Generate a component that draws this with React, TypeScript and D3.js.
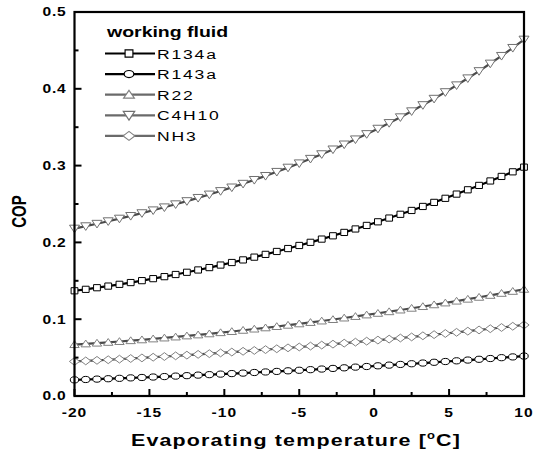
import React from "react";
import * as d3 from "d3";

// Evaporating temperature (°C) at each computed point
const temperatures = [
  -20, -19.25, -18.5, -17.75, -17, -16.25, -15.5, -14.75, -14, -13.25, -12.5,
  -11.75, -11, -10.25, -9.5, -8.75, -8, -7.25, -6.5, -5.75, -5, -4.25, -3.5,
  -2.75, -2, -1.25, -0.5, 0.25, 1, 1.75, 2.5, 3.25, 4, 4.75, 5.5, 6.25, 7, 7.75,
  8.5, 9.25, 10,
];

// COP per working fluid
const r134a = [
  0.137, 0.1389, 0.141, 0.1431, 0.1454, 0.1477, 0.1502, 0.1528, 0.1554, 0.1582,
  0.1611, 0.1641, 0.1672, 0.1705, 0.1738, 0.1772, 0.1808, 0.1844, 0.1882,
  0.192, 0.196, 0.2001, 0.2043, 0.2086, 0.213, 0.2175, 0.2221, 0.2268, 0.2317,
  0.2366, 0.2416, 0.2468, 0.2521, 0.2574, 0.2629, 0.2685, 0.2742, 0.28, 0.2859,
  0.2919, 0.298,
];
const r143a = [
  0.021, 0.0215, 0.022, 0.0225, 0.023, 0.0236, 0.0241, 0.0247, 0.0253, 0.0259,
  0.0265, 0.0272, 0.0278, 0.0285, 0.0292, 0.0298, 0.0306, 0.0313, 0.032,
  0.0328, 0.0335, 0.0343, 0.0351, 0.0359, 0.0367, 0.0376, 0.0384, 0.0393,
  0.0402, 0.0411, 0.042, 0.0429, 0.0439, 0.0449, 0.0458, 0.0468, 0.0478,
  0.0488, 0.0499, 0.0509, 0.052,
];
const r22 = [
  0.067, 0.0679, 0.0689, 0.0699, 0.071, 0.0721, 0.0732, 0.0744, 0.0756, 0.0769,
  0.0783, 0.0796, 0.081, 0.0825, 0.084, 0.0856, 0.0872, 0.0888, 0.0905,
  0.0922, 0.094, 0.0958, 0.0977, 0.0996, 0.1016, 0.1036, 0.1056, 0.1077,
  0.1098, 0.112, 0.1143, 0.1165, 0.1188, 0.1212, 0.1236, 0.1261, 0.1286,
  0.1311, 0.1337, 0.1363, 0.139,
];
const c4h10 = [
  0.218, 0.2211, 0.2243, 0.2276, 0.231, 0.2345, 0.2381, 0.2418, 0.2457, 0.2497,
  0.2538, 0.258, 0.2624, 0.2669, 0.2716, 0.2764, 0.2814, 0.2866, 0.2919,
  0.2974, 0.303, 0.3089, 0.3149, 0.3211, 0.3276, 0.3342, 0.3411, 0.3481,
  0.3555, 0.363, 0.3708, 0.3788, 0.3871, 0.3957, 0.4046, 0.4137, 0.4231,
  0.4329, 0.4429, 0.4533, 0.4641,
];
const nh3 = [
  0.045, 0.0457, 0.0464, 0.0472, 0.048, 0.0488, 0.0496, 0.0505, 0.0514, 0.0523,
  0.0532, 0.0542, 0.0551, 0.0561, 0.0572, 0.0582, 0.0593, 0.0604, 0.0615,
  0.0627, 0.0638, 0.065, 0.0663, 0.0675, 0.0688, 0.0701, 0.0714, 0.0728,
  0.0741, 0.0755, 0.0769, 0.0784, 0.0799, 0.0814, 0.0829, 0.0844, 0.086,
  0.0876, 0.0892, 0.0908, 0.0925,
];

const seriesNames = ["R134a", "R143a", "R22", "C4H10", "NH3"];
const seriesValues = [r134a, r143a, r22, c4h10, nh3];

const xTicks = [-20, -15, -10, -5, 0, 5, 10];
const xMinorTicks = [-17.5, -12.5, -7.5, -2.5, 2.5, 7.5];
const yTicks = [0, 0.1, 0.2, 0.3, 0.4, 0.5];
const yMinorTicks = [0.05, 0.15, 0.25, 0.35, 0.45];
const xTickLabels = ["-20", "-15", "-10", "-5", "0", "5", "10"];
const yTickLabels = ["0.0", "0.1", "0.2", "0.3", "0.4", "0.5"];

const FONT = "'Liberation Sans', Arial, Helvetica, sans-serif";
const SX = 1.3; // horizontal stretch of the lettering

const markerPaths: Record<string, string> = {
  R134a: "M-3.4,-3.1h6.8v6.2h-6.8Z",
  R143a: "M-4.2,0a4.2,3.1 0 1,0 8.4,0a4.2,3.1 0 1,0 -8.4,0Z",
  R22: "M0,-3.8L4.7,3L-4.7,3Z",
  C4H10: "M-5,-3.4L5,-3.4L0,4.2Z",
  NH3: "M0,-3.9L5.1,0L0,3.9L-5.1,0Z",
};
const lineColor: Record<string, string> = {
  R134a: "#000",
  R143a: "#000",
  R22: "#4a4a4a",
  C4H10: "#4a4a4a",
  NH3: "#4a4a4a",
};
const markColor: Record<string, string> = {
  R134a: "#000",
  R143a: "#000",
  R22: "#808080",
  C4H10: "#707070",
  NH3: "#808080",
};
const legendLine: Record<string, string> = {
  R134a: "#000",
  R143a: "#000",
  R22: "#6a6a6a",
  C4H10: "#6a6a6a",
  NH3: "#6a6a6a",
};

function SText(props: {
  x: number;
  y: number;
  size: number;
  weight?: string;
  anchor?: string;
  ls?: number;
  rotate?: number;
  children: React.ReactNode;
}) {
  const { x, y, size, weight = "normal", anchor = "start", ls = 0, rotate = 0 } = props;
  return (
    <text
      transform={`translate(${x},${y}) scale(${SX},1)${rotate ? ` rotate(${rotate})` : ""}`}
      fontSize={size}
      fontWeight={weight}
      fontFamily={FONT}
      textAnchor={anchor}
      letterSpacing={ls}
      fill="#000"
    >
      {props.children}
    </text>
  );
}

export default function App() {
  const W = 534;
  const H = 458;
  const left = 74.5;
  const right = 524;
  const top = 12;
  const bottom = 396;

  const x = d3.scaleLinear().domain([-20, 10]).range([left, right]);
  const y = d3.scaleLinear().domain([0, 0.5]).range([bottom, top]);

  const line = d3
    .line<number>()
    .x((_, i) => x(temperatures[i]))
    .y((d) => y(d));

  const legendX0 = 105;
  const legendX1 = 155;
  const legendMarkX = 129;
  const legendY0 = 53.5;
  const legendDy = 20.6;

  return (
    <svg
      width={W}
      height={H}
      style={{ position: "absolute", left: 0, top: 0, background: "#fff" }}
    >
      <rect x={0} y={0} width={W} height={H} fill="#fff" />

      {/* data series */}
      {seriesNames.map((name, si) => (
        <g key={name}>
          <path
            d={line(seriesValues[si]) || ""}
            fill="none"
            stroke={lineColor[name]}
            strokeWidth={2.2}
          />
          {seriesValues[si].map((v, i) => (
            <path
              key={i}
              d={markerPaths[name]}
              transform={`translate(${x(temperatures[i])},${y(v)})`}
              fill="#fff"
              stroke={markColor[name]}
              strokeWidth={1}
            />
          ))}
        </g>
      ))}

      {/* frame */}
      <rect
        x={left}
        y={top}
        width={right - left}
        height={bottom - top}
        fill="none"
        stroke="#000"
        strokeWidth={2.2}
      />

      {/* x ticks (inward) */}
      {xTicks.map((t) => (
        <line key={`xt${t}`} x1={x(t)} x2={x(t)} y1={bottom} y2={bottom - 7} stroke="#000" strokeWidth={2} />
      ))}
      {xMinorTicks.map((t) => (
        <line key={`xm${t}`} x1={x(t)} x2={x(t)} y1={bottom} y2={bottom - 4} stroke="#000" strokeWidth={2} />
      ))}
      {/* y ticks (inward) */}
      {yTicks.map((t) => (
        <line key={`yt${t}`} x1={left} x2={left + 7} y1={y(t)} y2={y(t)} stroke="#000" strokeWidth={2} />
      ))}
      {yMinorTicks.map((t) => (
        <line key={`ym${t}`} x1={left} x2={left + 4} y1={y(t)} y2={y(t)} stroke="#000" strokeWidth={2} />
      ))}

      {/* tick labels */}
      {xTicks.map((t, i) => (
        <SText key={`xl${t}`} x={x(t)} y={417} size={12} weight="bold" anchor="middle" ls={0.8}>
          {xTickLabels[i]}
        </SText>
      ))}
      {yTicks.map((t, i) => (
        <SText key={`yl${t}`} x={42.5} y={y(t) + 4.4} size={12} weight="bold" ls={0.6}>
          {yTickLabels[i]}
        </SText>
      ))}

      {/* axis titles */}
      <SText x={296} y={446} size={16.5} weight="bold" anchor="middle" ls={0.9}>
        Evaporating temperature [
        <tspan fontSize={10} dy={-7}>o</tspan>
        <tspan dy={7}>C]</tspan>
      </SText>
      <SText x={25.5} y={211.5} size={15} weight="bold" anchor="middle" rotate={-90}>
        COP
      </SText>

      {/* legend */}
      <SText x={107} y={37} size={15} weight="bold">
        working fluid
      </SText>
      {seriesNames.map((name, i) => {
        const ly = legendY0 + i * legendDy;
        return (
          <g key={`lg${name}`}>
            <line x1={legendX0} x2={legendX1} y1={ly} y2={ly} stroke={legendLine[name]} strokeWidth={2.2} />
            <path
              d={markerPaths[name]}
              transform={`translate(${legendMarkX},${ly}) scale(1.15)`}
              fill="#fff"
              stroke={markColor[name]}
              strokeWidth={1}
            />
            <SText x={157} y={ly + 5} size={13.5} ls={1.4}>
              {name}
            </SText>
          </g>
        );
      })}
    </svg>
  );
}
